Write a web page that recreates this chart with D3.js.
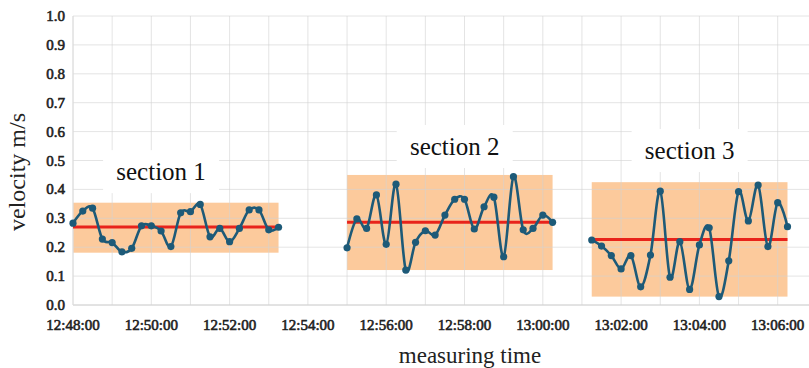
<!DOCTYPE html>
<html>
<head>
<meta charset="utf-8">
<script src="https://cdn.jsdelivr.net/npm/d3@7"></script>
<style>
  body { margin: 0; background: #fff; }
  svg { display: block; }
</style>
</head>
<body>
<svg id="chart"></svg>
<script>
// measured velocities, one point every 15 s
var times1 = ["12:48:00","12:48:15","12:48:30","12:48:45","12:49:00","12:49:15","12:49:30","12:49:45","12:50:00","12:50:15","12:50:30",
              "12:50:45","12:51:00","12:51:15","12:51:30","12:51:45","12:52:00","12:52:15","12:52:30","12:52:45","12:53:00","12:53:15"];
var vel1 = [0.283,0.325,0.335,0.228,0.216,0.184,0.196,0.274,0.274,0.256,0.202,0.319,0.323,0.348,0.236,0.265,0.219,0.265,0.329,0.329,0.260,0.269];

var times2 = ["12:55:00","12:55:15","12:55:30","12:55:45","12:56:00","12:56:15","12:56:30","12:56:45","12:57:00","12:57:15","12:57:30",
              "12:57:45","12:58:00","12:58:15","12:58:30","12:58:45","12:59:00","12:59:15","12:59:30","12:59:45","13:00:00","13:00:15"];
var vel2 = [0.198,0.298,0.265,0.381,0.210,0.418,0.121,0.217,0.257,0.242,0.311,0.366,0.366,0.263,0.340,0.373,0.167,0.444,0.260,0.265,0.311,0.286];

var times3 = ["13:01:15","13:01:30","13:01:45","13:02:00","13:02:15","13:02:30","13:02:45","13:03:00","13:03:15","13:03:30","13:03:45",
              "13:04:00","13:04:15","13:04:30","13:04:45","13:05:00","13:05:15","13:05:30","13:05:45","13:06:00","13:06:15"];
var vel3 = [0.225,0.204,0.171,0.125,0.171,0.063,0.173,0.394,0.096,0.219,0.054,0.208,0.267,0.029,0.153,0.392,0.291,0.415,0.202,0.354,0.271];

// per section: mean line and band limits
var sectionNames = ["section 1", "section 2", "section 3"];
var sectionMeans = [0.270, 0.286, 0.227];
var bandLow = [0.181, 0.121, 0.029];
var bandHigh = [0.354, 0.450, 0.425];
var labelTimes = ["12:50:15", "12:57:45", "13:03:45"];
var labelVals = [0.432, 0.519, 0.505];

var yTicks = [0,0.1,0.2,0.3,0.4,0.5,0.6,0.7,0.8,0.9,1.0];

var parseT = d3.timeParse("%H:%M:%S");
var fmtT = d3.timeFormat("%H:%M:%S");
var FONT = "'Liberation Serif'";

var W = 809, H = 368;
const margin = {top: 16, left: 73};
var plotH = 289;
var pxPerMin = 39.15;

const svg = d3.select("#chart").attr("width", W).attr("height", H);

const x = d3.scaleTime()
  .domain([parseT("12:48:00"), parseT("13:07:00")])
  .range([margin.left, margin.left + 19 * pxPerMin]);
const y = d3.scaleLinear()
  .domain([0, 1])
  .range([margin.top + plotH, margin.top]);

var sections = [
  {times: times1, vel: vel1},
  {times: times2, vel: vel2},
  {times: times3, vel: vel3}
].map(function(s, i) {
  return {
    pts: s.times.map(function(t, j) { return {t: parseT(t), v: s.vel[j]}; }),
    mean: sectionMeans[i], lo: bandLow[i], hi: bandHigh[i],
    name: sectionNames[i], lt: parseT(labelTimes[i]), lv: labelVals[i]
  };
});

/** orange bands */
svg.selectAll(".band").data(sections).join("rect")
  .attr("class", "band")
  .attr("x", d => x(d.pts[0].t))
  .attr("width", d => x(d.pts[d.pts.length-1].t) - x(d.pts[0].t))
  .attr("y", d => y(d.hi))
  .attr("height", d => y(d.lo) - y(d.hi))
  .attr("fill", "#fcca9c");

/** grid */
var minuteTicks = x.ticks(d3.timeMinute.every(1));
svg.append("g").selectAll("line").data(minuteTicks).join("line")
  .attr("x1", d => x(d)).attr("x2", d => x(d))
  .attr("y1", y(1)).attr("y2", y(0))
  .attr("stroke", "rgba(210,210,210,0.6)").attr("stroke-width", 1);
svg.append("g").selectAll("line").data(yTicks).join("line")
  .attr("x1", x.range()[0]).attr("x2", x.range()[1])
  .attr("y1", d => y(d)).attr("y2", d => y(d))
  .attr("stroke", "rgba(210,210,210,0.6)").attr("stroke-width", 1);

// axis lines
svg.append("line")
  .attr("x1", x.range()[0]).attr("x2", x.range()[1])
  .attr("y1", y(0)).attr("y2", y(0))
  .attr("stroke", "#d4d4d4").attr("stroke-width", 1.2);
svg.append("line")
  .attr("x1", x.range()[0]).attr("x2", x.range()[0])
  .attr("y1", y(0)).attr("y2", y(1))
  .attr("stroke", "#dedede").attr("stroke-width", 1);

/** y tick labels (bold look via thin stroke) */
svg.append("g").selectAll("text").data(yTicks).join("text")
  .attr("x", margin.left - 8)
  .attr("y", d => y(d) + 5)
  .attr("text-anchor", "end")
  .style("font-family", FONT)
  .style("font-size", "15px")
  .attr("fill", "#222").attr("stroke", "#222").attr("stroke-width", 0.6)
  .text(d => d.toFixed(1));

/** x tick labels */
var labelTicks = x.ticks(d3.timeMinute.every(2)).filter(d => x(d) < W);
svg.append("g").selectAll("text").data(labelTicks).join("text")
  .attr("x", d => x(d))
  .attr("y", y(0) + 25)
  .attr("text-anchor", "middle")
  .style("font-family", FONT)
  .style("font-size", "15px")
  .attr("fill", "#222").attr("stroke", "#222").attr("stroke-width", 0.6)
  .text(d => fmtT(d));

/** axis titles */
svg.append("text")
  .attr("transform", "translate(25,172) rotate(-90)")
  .attr("text-anchor", "middle")
  .style("font-family", FONT)
  .style("font-size", "24px")
  .attr("fill", "#222")
  .text("velocity m/s");
svg.append("text")
  .attr("x", 470).attr("y", 363)
  .attr("text-anchor", "middle")
  .style("font-family", FONT)
  .style("font-size", "23px")
  .attr("fill", "#222")
  .text("measuring time");

/** section labels with white boxes */
var lab = svg.selectAll(".secLabel").data(sections).join("g").attr("class", "secLabel");
lab.append("rect")
  .attr("x", d => x(d.lt) - 58).attr("width", 116)
  .attr("y", d => y(d.lv) - 30).attr("height", 43)
  .attr("fill", "#fff");
lab.append("text")
  .attr("x", d => x(d.lt)).attr("y", d => y(d.lv))
  .attr("text-anchor", "middle")
  .style("font-family", FONT)
  .style("font-size", "25px")
  .attr("fill", "#111")
  .text(d => d.name);

/** mean lines */
svg.selectAll(".meanLine").data(sections).join("line")
  .attr("class", "meanLine")
  .attr("x1", d => x(d.pts[0].t)).attr("x2", d => x(d.pts[d.pts.length-1].t))
  .attr("y1", d => y(d.mean)).attr("y2", d => y(d.mean))
  .attr("stroke", "#e8231b").attr("stroke-width", 3);

/** velocity lines */
var line = d3.line()
  .curve(d3.curveCardinal.tension(0))
  .x(d => x(d.t)).y(d => y(d.v));
svg.selectAll(".velLine").data(sections).join("path")
  .attr("class", "velLine")
  .attr("fill", "none")
  .attr("stroke", "#1d5a78")
  .attr("stroke-width", 2.6)
  .attr("d", d => line(d.pts));

svg.selectAll(".dots").data(sections).join("g").attr("class", "dots")
  .selectAll("circle").data(d => d.pts).join("circle")
  .attr("cx", d => x(d.t)).attr("cy", d => y(d.v))
  .attr("r", 3.6)
  .attr("fill", "#1d5a78");
</script>
</body>
</html>
